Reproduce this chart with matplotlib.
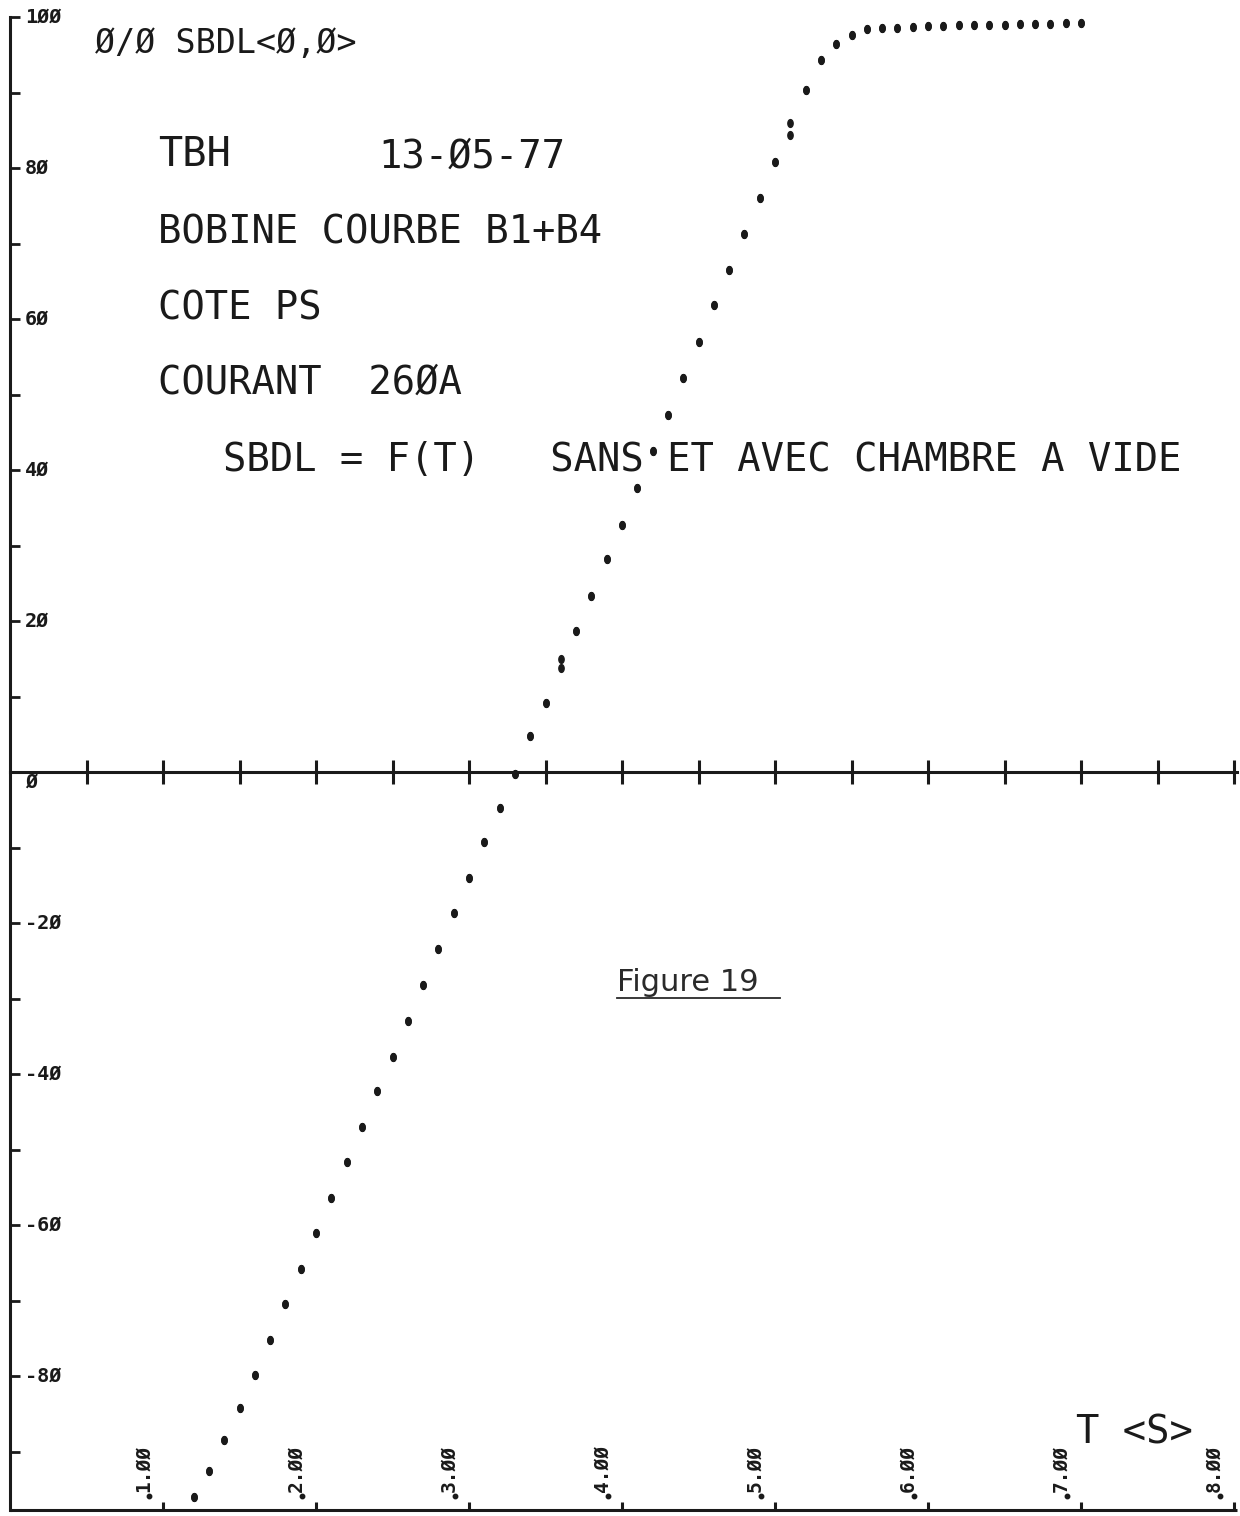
import numpy as np
import matplotlib
matplotlib.use("Agg")
import matplotlib.pyplot as plt
from matplotlib.path import Path
from matplotlib.ticker import MultipleLocator

# ── Data ──────────────────────────────────────────────────────────────────────
T_S = [1.2, 1.3, 1.4, 1.5, 1.6, 1.7, 1.8, 1.9, 2.0, 2.1,
       2.2, 2.3, 2.4, 2.5, 2.6, 2.7, 2.8, 2.9, 3.0, 3.1,
       3.2, 3.3, 3.4, 3.5, 3.6, 3.7, 3.8, 3.9, 4.0, 4.1,
       4.2, 4.3, 4.4, 4.5, 4.6, 4.7, 4.8, 4.9, 5.0, 5.1,
       5.2, 5.3, 5.4, 5.5, 5.6, 5.7, 5.8, 5.9, 6.0, 6.1,
       6.2, 6.3, 6.4, 6.5, 6.6, 6.7, 6.8, 6.9, 7.0]

SBDL_SANS = [-96.0, -92.6, -88.5, -84.2, -79.9, -75.2, -70.5, -65.8, -61.1, -56.4,
             -51.7, -47.0, -42.3, -37.7, -33.0, -28.2, -23.4, -18.7, -14.0, -9.3,
             -4.8, -0.3, 4.8, 9.1, 15.0, 18.7, 23.3, 28.2, 32.7, 37.6,
             42.5, 47.3, 52.2, 57.0, 61.9, 66.5, 71.3, 76.0, 80.8, 86.0,
             90.3, 94.3, 96.4, 97.6, 98.4, 98.5, 98.6, 98.7, 98.8, 98.8,
             98.9, 98.9, 99.0, 99.0, 99.1, 99.1, 99.1, 99.2, 99.2]

SBDL_AVEC = [-96.0, -92.6, -88.5, -84.2, -79.9, -75.2, -70.5, -65.8, -61.1, -56.4,
             -51.7, -47.0, -42.3, -37.7, -33.0, -28.2, -23.4, -18.7, -14.0, -9.3,
             -4.8, -0.3, 4.8, 9.1, 13.8, 18.7, 23.3, 28.2, 32.7, 37.6,
             42.5, 47.3, 52.2, 57.0, 61.9, 66.5, 71.3, 76.0, 80.8, 84.4,
             90.3, 94.3, 96.4, 97.6, 98.4, 98.5, 98.6, 98.7, 98.8, 98.8,
             98.9, 98.9, 99.0, 99.0, 99.1, 99.1, 99.1, 99.2, 99.2]

Y_TICKS = [100, 80, 60, 40, 20, 0, -20, -40, -60, -80]
Y_LABELS = ["1ØØ", "8Ø", "6Ø", "4Ø", "2Ø", "Ø", "-2Ø", "-4Ø", "-6Ø", "-8Ø"]
X_TICKS = [1, 2, 3, 4, 5, 6, 7, 8]
X_LABELS = ["1.ØØ", "2.ØØ", "3.ØØ", "4.ØØ", "5.ØØ", "6.ØØ", "7.ØØ", "8.ØØ"]

# ── Sheet geometry (pixels of the 1240x1516 scan) ─────────────────────────────
W, H = 1240, 1516
X0_PX, PX_PER_S = 10, 153.0      # T = 0 at x=10 px
Y0_PX, PX_PER_U = 772, 7.55      # SBDL = 0 at y=772 px
Y_BOTTOM = -97.75                # lower frame line
X_END = 8.02

INK = "#1a1a1a"
MONO = "DejaVu Sans Mono"

fig = plt.figure(figsize=(W / 100, H / 100), dpi=100)
fig.patch.set_facecolor("white")
ax = fig.add_axes([0, 0, 1, 1])
ax.set_xlim(-X0_PX / PX_PER_S, (W - X0_PX) / PX_PER_S)
ax.set_ylim((Y0_PX - H) / PX_PER_U, Y0_PX / PX_PER_U)
ax.set_facecolor("white")


def fig_xy(px, py):
    return px / W, 1 - py / H


# ── Axes: left spine and zero line ────────────────────────────────────────────
for side in ("top", "right"):
    ax.spines[side].set_visible(False)
ax.spines["left"].set_position(("data", 0))
ax.spines["bottom"].set_position(("data", 0))
ax.spines["left"].set_bounds(Y_BOTTOM, 100)
ax.spines["bottom"].set_bounds(0, X_END)
for side in ("left", "bottom"):
    ax.spines[side].set_linewidth(2.2)
    ax.spines[side].set_color(INK)

ax.xaxis.set_major_locator(MultipleLocator(0.5))
ax.yaxis.set_major_locator(MultipleLocator(10))
ax.set_xticks([t for t in ax.get_xticks() if 0 < t <= 8.0])
ax.set_yticks([t for t in ax.get_yticks() if Y_BOTTOM < t <= 100])
ax.tick_params(axis="x", direction="inout", length=17, width=2.2, color=INK,
               labelbottom=False)
ax.tick_params(axis="y", direction="in", length=7, width=2.0, color=INK,
               labelleft=False)

# lower frame line with upward ticks at each second
ax.plot([0, X_END], [Y_BOTTOM, Y_BOTTOM], color=INK, lw=2.2,
        solid_capstyle="butt", clip_on=False)
ax.vlines(X_TICKS, Y_BOTTOM, Y_BOTTOM + 1.0, color=INK, lw=2.2)

# ── Tick labels (blocky plotter digits) ───────────────────────────────────────
for val, lab in zip(Y_TICKS, Y_LABELS):
    yy = val - 1.4 if val == 0 else val
    ax.text(15 / PX_PER_S, yy, lab,
            ha="left", va="center", fontsize=14.5, fontweight="bold",
            family=MONO, color=INK)

for val, lab in zip(X_TICKS, X_LABELS):
    ax.text(val - 20 / PX_PER_S, -92.2, lab, rotation=90,
            ha="center", va="center", fontsize=14, fontweight="bold",
            family=MONO, color=INK)
    ax.plot(val - 14 / PX_PER_S, -95.9, "o", ms=3.2, color=INK)

# ── Data points (two nearly identical series) ────────────────────────────────
theta = np.linspace(0, 2 * np.pi, 40)
ellipse = Path(np.column_stack([0.68 * np.cos(theta), np.sin(theta)]), closed=True)
ax.plot(T_S, SBDL_SANS, linestyle="none", marker=ellipse, ms=5.6,
        color=INK, zorder=5)
ax.plot(T_S, SBDL_AVEC, linestyle="none", marker=ellipse, ms=5.6,
        color=INK, zorder=5)

# ── Plotter annotations ───────────────────────────────────────────────────────
def sheet_text(px, py, txt, size=28, **kw):
    x, y = fig_xy(px, py)
    fig.text(x, y, txt, ha="left", va="center", fontsize=size,
             family=MONO, color=INK, **kw)


sheet_text(95, 43, "Ø/Ø SBDL<Ø,Ø>", size=24)
sheet_text(158, 155, "TBH", size=29)
sheet_text(378, 157, "13-Ø5-77", size=28)
sheet_text(158, 232, "BOBINE COURBE B1+B4", size=28)
sheet_text(158, 308, "COTE PS", size=28)
sheet_text(158, 383, "COURANT  26ØA", size=28)
sheet_text(223, 460, "SBDL = F(T)   SANS ET AVEC CHAMBRE A VIDE", size=28)
sheet_text(1076, 1432, "T <S>", size=28)

# handwritten caption
fx, fy = fig_xy(617, 983)
fig.text(fx, fy, "Figure 19", ha="left", va="center", fontsize=22,
         family="DejaVu Sans", color="#2a2a2a")
ux0, uy = fig_xy(617, 998)
ux1, _ = fig_xy(780, 998)
fig.add_artist(plt.Line2D([ux0, ux1], [uy, uy], color="#2a2a2a", lw=1.3))

fig.savefig("out.png", dpi=100, facecolor="white")
